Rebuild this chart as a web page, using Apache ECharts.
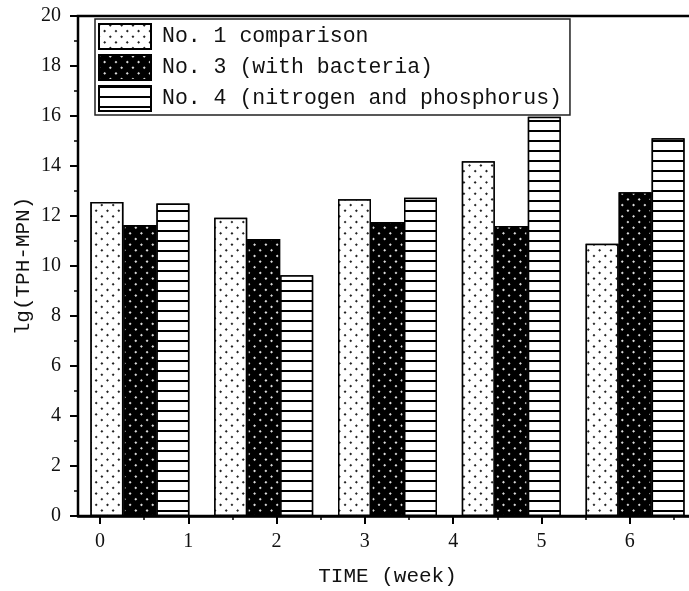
<!DOCTYPE html>
<html>
<head>
<meta charset="utf-8">
<script src="https://cdn.jsdelivr.net/npm/echarts@6/dist/echarts.min.js"></script>
<style>html,body{margin:0;padding:0;background:#fff}#c{width:689px;height:591px}</style>
</head>
<body>
<div id="c"></div>
<script>
const groups = ['g1', 'g2', 'g3', 'g4', 'g5'];
const seriesNames = ['No. 1 comparison', 'No. 3 (with bacteria)', 'No. 4 (nitrogen and phosphorus)'];
const no1 = [12.56, 11.93, 12.67, 14.19, 10.89];
const no3 = [11.64, 11.08, 11.76, 11.60, 12.95];
const no4 = [12.50, 9.63, 12.73, 15.97, 15.11];
const weekTicks = [0, 1, 2, 3, 4, 5, 6, 7];
const yMin = 0, yMax = 20, yStep = 2;

const serif = '"Liberation Serif", "DejaVu Serif", serif';
const mono = '"Liberation Mono", "DejaVu Sans Mono", monospace';

const decals = [
  { symbol: 'rect', symbolSize: 1, dashArrayX: [1.3, 5.7], dashArrayY: [1.3, 5.7], rotation: Math.PI / 4, color: '#222', backgroundColor: '#fff' },
  { symbol: 'rect', symbolSize: 1, dashArrayX: [1.3, 5.7], dashArrayY: [1.3, 5.7], rotation: Math.PI / 4, color: '#ddd', backgroundColor: '#000' },
  { symbol: 'rect', symbolSize: 1, dashArrayX: [1, 0], dashArrayY: [1.8, 8], rotation: 0, color: '#000', backgroundColor: '#fff' }
];
const fills = ['#fff', '#000', '#fff'];
const values = [no1, no3, no4];

const chart = echarts.init(document.getElementById('c'), null, { renderer: 'canvas' });
chart.setOption({
  animation: false,
  backgroundColor: '#fff',
  grid: [
    { left: 78, top: 16, right: -8, bottom: 75, outerBoundsMode: 'none', containLabel: false, show: true, borderColor: '#000', borderWidth: 2.5, backgroundColor: 'transparent' },
    { left: 100, top: 16, right: -29, bottom: 75, outerBoundsMode: 'none', containLabel: false }
  ],
  legend: {
    orient: 'vertical',
    left: 95, top: 19,
    itemWidth: 52, itemHeight: 25, itemGap: 4,
    padding: [4, 8, 3, 3],
    borderColor: '#222', borderWidth: 1.5,
    backgroundColor: '#fff',
    selectedMode: false,
    icon: 'rect',
    textStyle: { fontFamily: mono, fontSize: 21.5, color: '#111', padding: [0, 0, 0, 6] },
    data: seriesNames
  },
  xAxis: [
    {
      type: 'category', gridIndex: 0, data: groups,
      axisLine: { lineStyle: { color: '#000', width: 2.5 } },
      axisTick: { show: false }, axisLabel: { show: false },
      name: 'TIME (week)', nameLocation: 'middle', nameGap: 50, nameMoveOverlap: false,
      nameTextStyle: { fontFamily: mono, fontSize: 21, color: '#111' }
    },
    {
      type: 'value', gridIndex: 1, min: weekTicks[0], max: weekTicks[weekTicks.length - 1], interval: 1,
      axisLine: { show: false },
      axisTick: { show: true, length: 8, lineStyle: { color: '#000', width: 2 } },
      minorTick: { show: true, splitNumber: 2, length: 4, lineStyle: { color: '#000', width: 1.5 } },
      splitLine: { show: false },
      axisLabel: { margin: 16, fontFamily: serif, fontSize: 20, color: '#111', showMaxLabel: false }
    }
  ],
  yAxis: [
    {
      type: 'value', gridIndex: 0, min: yMin, max: yMax, interval: yStep,
      axisLine: { show: true, lineStyle: { color: '#000', width: 2 } },
      axisTick: { show: true, length: 8, lineStyle: { color: '#000', width: 2 } },
      minorTick: { show: true, splitNumber: 2, length: 4, lineStyle: { color: '#000', width: 1.5 } },
      splitLine: { show: false },
      axisLabel: { margin: 17, fontFamily: serif, fontSize: 20, color: '#111' },
      name: 'lg(TPH-MPN)', nameLocation: 'middle', nameGap: 44, nameRotate: 90, nameMoveOverlap: false,
      nameTextStyle: { fontFamily: mono, fontSize: 21, color: '#111' }
    },
    { type: 'value', gridIndex: 1, min: yMin, max: yMax, show: false }
  ],
  series: seriesNames.map((name, i) => ({
    name, type: 'bar', xAxisIndex: 0, yAxisIndex: 0,
    data: values[i],
    barWidth: 33, barGap: '0%',
    itemStyle: { color: fills[i], borderColor: '#000', borderWidth: 1.5, decal: decals[i] }
  }))
});
</script>
</body>
</html>
